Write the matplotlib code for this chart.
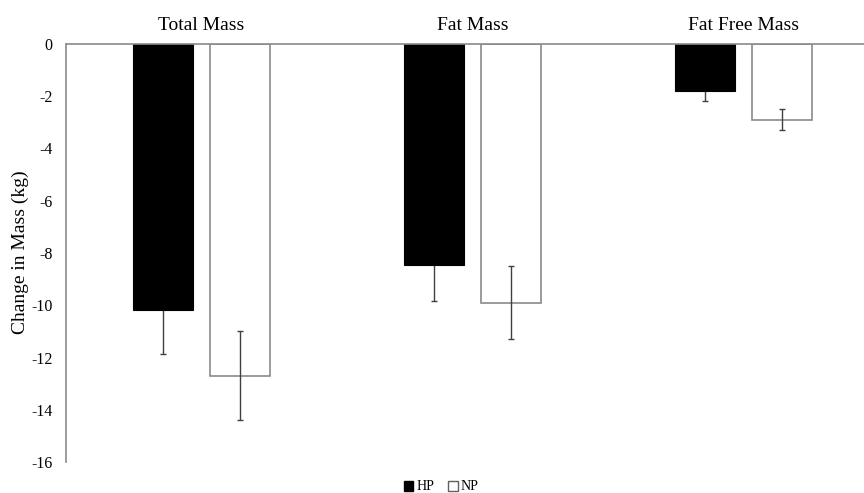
import matplotlib
matplotlib.use("Agg")
import matplotlib.pyplot as plt
from matplotlib.patches import Patch
import numpy as np

categories = ["Total Mass", "Fat Mass", "Fat Free Mass"]
hp_values = [-10.2, -8.45, -1.8]
hp_errors = [1.65, 1.4, 0.4]
np_values = [-12.7, -9.9, -2.9]
np_errors = [1.7, 1.4, 0.4]
yticks = [0, -2, -4, -6, -8, -10, -12, -14, -16]

plt.rcParams['font.family'] = ['Liberation Serif', 'DejaVu Serif']

W, H = 864, 493
fig = plt.figure(figsize=(W / 100, H / 100), dpi=100)
ax = fig.add_axes([66 / W, 1 - 462 / H, (W - 66) / W, (462 - 44) / H])

x = np.arange(len(categories))
bw = 0.222
off = 0.141
ax.errorbar(x - off, hp_values, yerr=hp_errors, fmt='none', ecolor='#404040',
            elinewidth=1.0, capsize=2.5, capthick=1.0, zorder=1)
ax.bar(x - off, hp_values, bw, color='black', edgecolor='black', linewidth=0.8, zorder=2)
ax.bar(x + off, np_values, bw, color='white', edgecolor='#8a8a8a', linewidth=1.2, zorder=2)
ax.errorbar(x + off, np_values, yerr=np_errors, fmt='none', ecolor='#404040',
            elinewidth=1.0, capsize=2.5, capthick=1.0, zorder=3)

ax.set_xlim(-0.5, -0.5 + (W - 66) / 271)
ax.set_ylim(-16, 0)
ax.set_yticks(yticks)
ax.set_yticklabels([str(t) for t in yticks], fontsize=11.5)
ax.tick_params(axis='y', length=0, pad=9.5)
ax.set_xticks(x)
ax.set_xticklabels(categories, fontsize=14)
ax.xaxis.tick_top()
ax.tick_params(axis='x', length=0, pad=7)

for s in ['right', 'bottom']:
    ax.spines[s].set_visible(False)
ax.spines['top'].set_color('#8a8a8a')
ax.spines['left'].set_color('#8a8a8a')
ax.spines['top'].set_linewidth(1.2)
ax.spines['left'].set_linewidth(1.2)
ax.spines['top'].set_zorder(4)

ax.set_ylabel("Change in Mass (kg)", fontsize=14, va='center')
ax.yaxis.set_label_coords(-(66 - 20) / (W - 66), (462 - 252) / (462 - 44))

handles = [Patch(facecolor='black', edgecolor='black', label='HP'),
           Patch(facecolor='white', edgecolor='#606060', label='NP')]
fig.legend(handles=handles, loc='center', bbox_to_anchor=(441 / W, 1 - 487 / H),
           ncol=2, frameon=False, fontsize=10, handlelength=0.7, handleheight=0.7,
           handletextpad=0.2, columnspacing=1.0)

fig.savefig("out.png", dpi=100)
